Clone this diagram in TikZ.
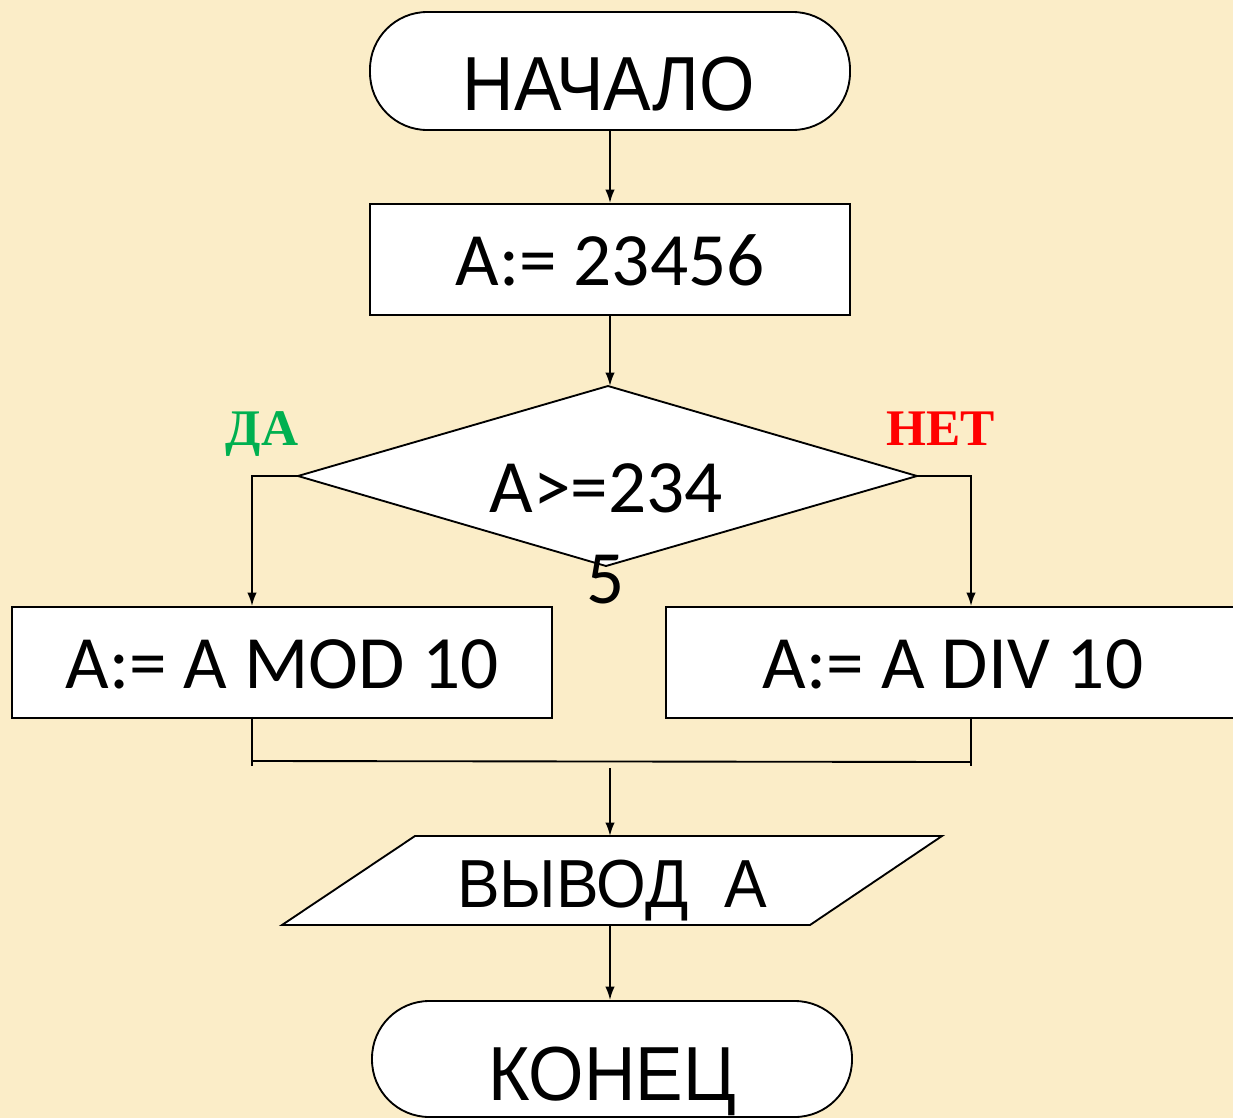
\documentclass[tikz,border=0pt]{standalone}
\usepackage{fontspec}
\setmainfont{Liberation Sans}
\newfontfamily\calibrifont{Carlito}
\newfontfamily\timesfont{Liberation Serif}
\usetikzlibrary{arrows.meta}
\definecolor{bgcol}{RGB}{251,237,200}
\definecolor{dagreen}{RGB}{0,176,80}
\definecolor{netred}{RGB}{255,0,0}
\begin{document}
\begin{tikzpicture}[x=0.75pt,y=-0.75pt,
  line width=1.4pt,
  arr/.style={-{Latex[length=10pt,width=7pt]}},
  box/.style={draw=black,fill=white,rectangle,inner sep=0pt,minimum height=83.25pt},
  term/.style={draw=black,fill=white,rectangle,inner sep=0pt,minimum width=360pt,rounded corners=43pt},
  arialtxt/.style={anchor=base,inner sep=0pt,font=\fontsize{57.5}{64}\selectfont},
  calibritxt/.style={anchor=base,inner sep=0pt,font=\calibrifont\fontsize{56.5}{68}\selectfont},
  yesno/.style={anchor=base,inner sep=0pt,font=\timesfont\bfseries\fontsize{38.5}{44}\selectfont}]
\fill[bgcol] (0,0) rectangle (1233,1118);
\useasboundingbox (0,0) rectangle (1233,1118);
\clip (0,0) rectangle (1233,1118);

% shapes
\node[term,minimum height=88.5pt] (start) at (610,71) {};
\node[box,minimum width=360pt] (assign) at (610,259.5) {};
\coordinate (dt) at (608,386);
\coordinate (dr) at (917,476);
\coordinate (db) at (606,566);
\coordinate (dl) at (298,476);
\draw[fill=white] (dt) -- (dr) -- (db) -- (dl) -- cycle;
\node[box,minimum width=405pt] (mod) at (282,662.5) {};
\node[box,minimum width=430.5pt] (div) at (953,662.5) {};
\coordinate (ptl) at (415,836);
\coordinate (ptr) at (942,836);
\coordinate (pbr) at (810,925);
\coordinate (pbl) at (282,925);
\coordinate (pt) at (610,836);
\coordinate (pb) at (610,925);
\draw[fill=white] (ptl) -- (ptr) -- (pbr) -- (pbl) -- cycle;
\node[term,minimum height=87pt] (end) at (612,1059) {};

% texts
\node[arialtxt] (t1) at (609,110) {\scalebox{0.93}[1]{НАЧАЛО}};
\node[calibritxt] (t2) at (610,285) {A:= 23456};
\node[calibritxt] (t3) at (606,512) {A>=234};
\node[calibritxt] (t4) at (606,603) {5};
\node[yesno,text=dagreen] (yes) at (262,445) {ДА};
\node[yesno,text=netred] (no) at (941,445) {НЕТ};
\node[calibritxt] (t5) at (282,688) {A:= A MOD 10};
\node[calibritxt] (t6) at (953,688) {A:= A DIV 10};
\node[arialtxt,font=\fontsize{51}{56}\selectfont] (t7) at (612,907) {\scalebox{0.94}[1]{ВЫВОД~~A}};
\node[arialtxt] (t8) at (612,1100) {\scalebox{0.93}[1]{КОНЕЦ}};

% connectors
\draw[arr] (start.south) -- (assign.north);
\draw[arr] (assign.south) -- (assign.south |- dt);
\draw[arr] (dl) -| ([xshift=-22.5pt]mod.north);
\draw[arr] (dr) -| ([xshift=13.5pt]div.north);
\coordinate (jl) at (252,761);
\coordinate (jr) at (971,762);
\draw ([xshift=-22.5pt,yshift=1.5pt]mod.south) -- ++(0,49);
\draw ([xshift=13.5pt,yshift=1.5pt]div.south) -- ++(0,49);
\draw (jl) -- (jr);
\coordinate (js) at (610,768);
\draw[arr] (js) -- (pt);
\draw[arr] (pb) -- (pb |- end.north);
\end{tikzpicture}
\end{document}
